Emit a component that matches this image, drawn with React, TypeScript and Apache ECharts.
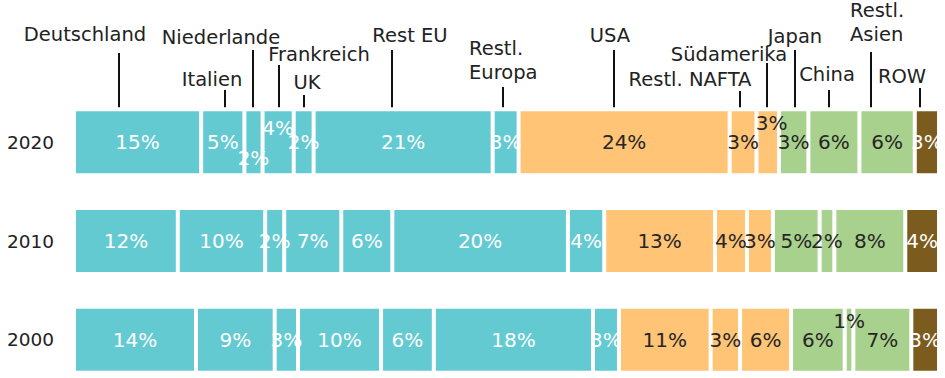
import React, { useEffect, useRef } from "react";
import * as echarts from "echarts";

// ---- data ----
const CATEGORIES = ["2020", "2010", "2000"];
const REGIONS = [
  "Deutschland", "Italien", "Niederlande", "Frankreich", "UK", "Rest EU", "Restl. Europa",
  "USA", "Restl. NAFTA", "Südamerika", "Japan", "China", "Restl. Asien", "ROW",
];
const V2020 = [14.7, 5.0, 2.1, 3.6, 2.3, 20.7, 3.0, 24.4, 3.1, 2.6, 3.4, 5.9, 6.4, 2.8];
const V2010 = [12.0, 10.1, 2.2, 6.6, 5.9, 20.3, 4.2, 12.8, 3.7, 3.0, 5.4, 1.7, 8.2, 3.9];
const V2000 = [14.1, 9.1, 2.7, 9.6, 6.1, 18.4, 3.0, 10.6, 3.4, 5.9, 6.2, 1.0, 6.7, 3.2];
const ROWS = [V2020, V2010, V2000];

// ---- styles / layout ----
const GROUP = ["eu", "eu", "eu", "eu", "eu", "eu", "eu", "am", "am", "am", "as", "as", "as", "row"];
const COLORS: Record<string, string> = { eu: "#64CAD2", am: "#FFC476", as: "#A9D18E", row: "#7C5B1E" };
const LABEL_COLORS: Record<string, string> = { eu: "#ffffff", am: "#262626", as: "#262626", row: "#ffffff" };
const FONT = "'DejaVu Sans', Verdana, sans-serif";
const BAR_WIDTH = 66;

// label shifts for crowded segments: [rowIndex, regionIndex, dx, dy]
const LABEL_SHIFTS: [number, number, number, number][] = [
  [0, 2, 0, 16],
  [0, 3, 0, -14],
  [0, 9, 4, -19],
  [2, 11, 0, -19],
];

// callout layout per region: line dx from segment centre, line top, text dx from line, text y, align, wrap
const CALLOUTS = [
  { lineDx: -19, lineTop: 53, textDx: -34, textY: 34, align: "center", wrap: false },
  { lineDx: 2, lineTop: 90, textDx: -13, textY: 79, align: "center", wrap: false },
  { lineDx: 0, lineTop: 50, textDx: -32, textY: 37, align: "center", wrap: false },
  { lineDx: 1, lineTop: 65, textDx: 40, textY: 54, align: "center", wrap: false },
  { lineDx: 0, lineTop: 95, textDx: 3, textY: 82, align: "center", wrap: false },
  { lineDx: -11, lineTop: 50, textDx: 18, textY: 35, align: "center", wrap: false },
  { lineDx: -3, lineTop: 87, textDx: -34, textY: 60, align: "left", wrap: true },
  { lineDx: -10, lineTop: 50, textDx: -4, textY: 35, align: "center", wrap: false },
  { lineDx: -3, lineTop: 91, textDx: -50, textY: 79, align: "center", wrap: false },
  { lineDx: -1, lineTop: 63, textDx: -38, textY: 54, align: "center", wrap: false },
  { lineDx: 1, lineTop: 50, textDx: 0, textY: 36, align: "center", wrap: false },
  { lineDx: -5, lineTop: 90, textDx: -2, textY: 74, align: "center", wrap: false },
  { lineDx: -16, lineTop: 52, textDx: -21, textY: 22, align: "left", wrap: true },
  { lineDx: -7, lineTop: 88, textDx: -18, textY: 76, align: "center", wrap: false },
];

export default function App() {
  const ref = useRef<HTMLDivElement>(null);

  useEffect(() => {
    if (!ref.current) return;
    const chart = echarts.init(ref.current, null, { renderer: "svg" });

    const series = REGIONS.map((name, i) => ({
      type: "bar",
      name,
      stack: "total",
      barWidth: BAR_WIDTH,
      clip: false,
      data: ROWS.map((row, r) => {
        const s = LABEL_SHIFTS.find((x) => x[0] === r && x[1] === i);
        return s ? { value: row[i], label: { offset: [s[2], s[3]] } } : row[i];
      }),
      itemStyle: { color: COLORS[GROUP[i]], borderColor: "#ffffff", borderWidth: 2 },
      label: {
        show: true,
        position: "inside",
        formatter: (p: any) => Math.round(p.value) + "%",
        color: LABEL_COLORS[GROUP[i]],
        fontSize: 20,
        fontFamily: FONT,
      },
    }));

    chart.setOption({
      animation: false,
      grid: { left: 74, right: 6, top: 93, height: 296, outerBoundsMode: "none", containLabel: false },
      xAxis: { type: "value", min: 0, max: 100, show: false },
      yAxis: {
        type: "category",
        data: CATEGORIES,
        inverse: true,
        axisLine: { show: false },
        axisTick: { show: false },
        axisLabel: { color: "#222", fontSize: 18.5, fontFamily: FONT, margin: 20 },
      },
      series,
    });

    const graphics: any[] = [];
    let cum = 0;
    REGIONS.forEach((name, i) => {
      const mid = cum + V2020[i] / 2;
      cum += V2020[i];
      const pt = chart.convertToPixel({ gridIndex: 0 }, [mid, CATEGORIES[0]]) as number[];
      const barTop = pt[1] - BAR_WIDTH / 2;
      const c = CALLOUTS[i];
      const lx = Math.round(pt[0] + c.lineDx);
      graphics.push({
        type: "line",
        shape: { x1: lx, y1: c.lineTop, x2: lx, y2: barTop - 2 },
        style: { stroke: "#111", lineWidth: 2 },
      });
      graphics.push({
        type: "text",
        x: lx + c.textDx,
        y: c.textY,
        style: {
          text: c.wrap ? name.replace(" ", "\n") : name,
          fill: "#222",
          fontSize: 19.5,
          fontFamily: FONT,
          align: c.align,
          verticalAlign: "middle",
          lineHeight: 24,
        },
      });
    });
    chart.setOption({ graphic: graphics });

    return () => chart.dispose();
  }, []);

  return (
    <div
      ref={ref}
      style={{ position: "fixed", left: 0, top: 0, width: 945, height: 378, background: "#fff" }}
    />
  );
}
